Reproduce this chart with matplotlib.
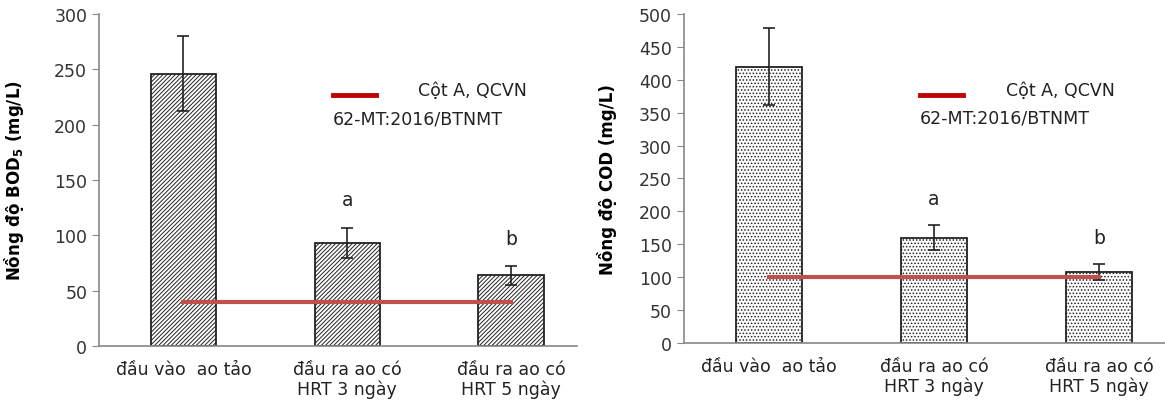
import numpy as np
import matplotlib.pyplot as plt

plt.rcParams['font.family'] = ['DejaVu Sans']
plt.rcParams['hatch.linewidth'] = 0.7

# ── data ──────────────────────────────────────────────────────────────────────
categories = ["đầu vào  ao tảo", "đầu ra ao có\nHRT 3 ngày", "đầu ra ao có\nHRT 5 ngày"]

bod_mean = [246, 93, 64]
bod_err = [34, 14, 8.5]
bod_limit = 40

cod_mean = [420, 160, 108]
cod_err = [58, 19, 12]
cod_limit = 100

letters = ["", "a", "b"]
legend_text = ["Cột A, QCVN", "62-MT:2016/BTNMT"]


def panel(ax, means, errs, limit, ymax, ystep, hatch, ylabel, letter_pad, lpad):
    x = np.arange(len(categories))
    ax.bar(x, means, width=0.4, color="white", edgecolor="#222222",
           linewidth=1.3, hatch=hatch, zorder=2)
    ax.errorbar(x, means, yerr=errs, fmt="none", ecolor="#222222",
                elinewidth=1.2, capsize=4, capthick=1.2, zorder=3)
    ax.plot([x[0], x[-1]], [limit, limit], color="#c0504d", lw=3, zorder=4)

    for xi, m, e, lt in zip(x, means, errs, letters):
        if lt:
            ax.text(xi, m + e + letter_pad, lt, ha="center", va="center",
                    fontsize=13.5, color="#222222")

    # legend key drawn by hand (two-line label like the original)
    ax.plot([0.49, 0.58], [0.755, 0.755], transform=ax.transAxes,
            color="#c00000", lw=3.5, clip_on=False)
    ax.text(0.895, 0.77, legend_text[0], transform=ax.transAxes,
            ha="right", va="center", fontsize=12.5, color="#222222")
    ax.text(0.49, 0.685, legend_text[1], transform=ax.transAxes,
            ha="left", va="center", fontsize=12.5, color="#222222")

    ax.set_xlim(-0.515, 2.4)
    ax.set_ylim(0, ymax)
    ax.set_yticks(np.arange(0, ymax + 1, ystep))
    ax.set_xticks(x)
    ax.set_xticklabels(categories, fontsize=12.5, color="#222222", linespacing=1.1)
    ax.tick_params(axis="x", length=0, pad=10)
    ax.tick_params(axis="y", labelsize=12.5, labelcolor="#333333",
                   color="#888888", length=5, direction="out")
    for s in ["top", "right"]:
        ax.spines[s].set_visible(False)
    for s in ["left", "bottom"]:
        ax.spines[s].set_color("#888888")
        ax.spines[s].set_linewidth(1.2)
    ax.set_ylabel(ylabel, fontsize=12, fontweight="bold", labelpad=lpad)


fig = plt.figure(figsize=(11.65, 4.14), dpi=100)
ax1 = fig.add_axes([0.085, 0.162, 0.41, 0.802])
ax2 = fig.add_axes([0.587, 0.169, 0.413, 0.795])

panel(ax1, bod_mean, bod_err, bod_limit, 300, 50, "////////",
      r"Nồng độ BOD$_\mathbf{5}$ (mg/L)", 25, 20)
panel(ax2, cod_mean, cod_err, cod_limit, 500, 50, ".....",
      "Nồng độ COD (mg/L)", 40, 16)

fig.savefig("out.png", dpi=100)
